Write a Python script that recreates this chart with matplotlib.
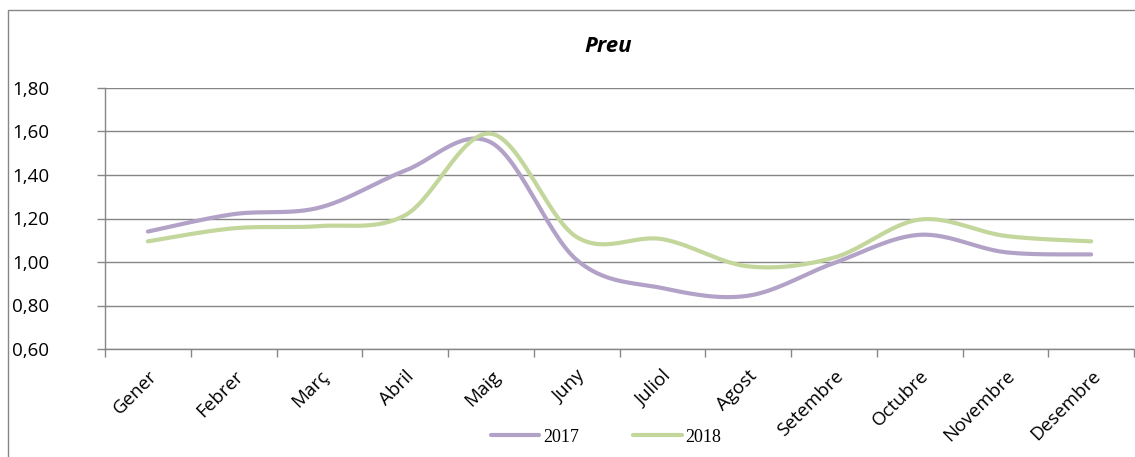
import numpy as np
import matplotlib.pyplot as plt
from matplotlib.patches import Rectangle
from matplotlib.ticker import FuncFormatter

months = ['Gener', 'Febrer', 'Març', 'Abril', 'Maig', 'Juny', 'Juliol',
          'Agost', 'Setembre', 'Octubre', 'Novembre', 'Desembre']
preu_2017 = [1.14, 1.22, 1.25, 1.42, 1.55, 1.01, 0.88, 0.845, 0.995, 1.125, 1.045, 1.035]
preu_2018 = [1.095, 1.155, 1.165, 1.215, 1.59, 1.115, 1.105, 0.98, 1.02, 1.195, 1.12, 1.095]
series_names = ['2017', '2018']

PURPLE = '#b3a2c7'
GREEN = '#c3d69b'
GRID = '#868686'
FONT = 'Open Sans'


def smooth(y, n=30):
    # Excel-style smoothed line: cubic Bezier between points
    x = np.arange(len(y), dtype=float)
    y = np.asarray(y, dtype=float)
    px = np.concatenate([[x[0]], x, [x[-1]]])
    py = np.concatenate([[y[0]], y, [y[-1]]])
    xs, ys = [], []
    t = np.linspace(0, 1, n)
    for i in range(1, len(px) - 2):
        p0 = np.array([px[i], py[i]])
        p3 = np.array([px[i + 1], py[i + 1]])
        p1 = p0 + (np.array([px[i + 1], py[i + 1]]) - np.array([px[i - 1], py[i - 1]])) / 6
        p2 = p3 - (np.array([px[i + 2], py[i + 2]]) - np.array([px[i], py[i]])) / 6
        b = ((1 - t) ** 3)[:, None] * p0 + (3 * (1 - t) ** 2 * t)[:, None] * p1 \
            + (3 * (1 - t) * t ** 2)[:, None] * p2 + (t ** 3)[:, None] * p3
        xs.extend(b[:, 0])
        ys.extend(b[:, 1])
    return np.array(xs), np.array(ys)


W, H = 1135, 457
fig = plt.figure(figsize=(W / 100, H / 100), dpi=100)
ax = fig.add_axes([105 / W, 1 - 349 / H, (1134 - 105) / W, (349 - 88) / H])

for vals, col, name in zip([preu_2017, preu_2018], [PURPLE, GREEN], series_names):
    sx, sy = smooth(vals)
    ax.plot(sx, sy, color=col, lw=3.0, solid_capstyle='round', label=name)

ax.set_xlim(-0.5, len(months) - 0.5)
ax.set_ylim(0.6, 1.8)
ax.set_yticks(np.arange(0.6, 1.81, 0.2))
ax.yaxis.set_major_formatter(FuncFormatter(lambda v, p: ('%.2f' % v).replace('.', ',')))
ax.grid(axis='y', color=GRID, lw=1.0)
ax.set_axisbelow(True)

ax.set_xticks(np.arange(-0.5, len(months), 1.0))
ax.set_xticklabels([])
ax.set_xticks(np.arange(len(months)), minor=True)
ax.set_xticklabels(months, minor=True, rotation=45, ha='right', va='top',
                   rotation_mode='anchor', fontsize=13.5, family=FONT)
ax.tick_params(axis='x', which='minor', length=0, pad=13)
ax.tick_params(axis='x', which='major', length=6, color=GRID, width=1)
ax.tick_params(axis='y', length=6, color=GRID, width=1, pad=34, labelsize=13.5)
for lab in ax.get_yticklabels():
    lab.set_family(FONT)

for s in ['top', 'right']:
    ax.spines[s].set_visible(False)
for s in ['left', 'bottom']:
    ax.spines[s].set_color(GRID)
    ax.spines[s].set_linewidth(1)

fig.text(608 / W, 1 - 46 / H, 'Preu', ha='center', va='center', fontsize=16,
         fontweight='bold', fontstyle='italic', family=FONT)

leg = fig.legend(loc='center', bbox_to_anchor=(606 / W, 1 - 437 / H), ncol=2,
                 frameon=False, prop={'family': 'Liberation Serif', 'size': 13},
                 handlelength=2.7, handletextpad=0.2, columnspacing=3.0)

fig.patches.append(Rectangle((8 / W, -0.1), 1.2, 1 - 10 / H + 0.1,
                             transform=fig.transFigure, fill=False,
                             edgecolor=GRID, lw=1))

fig.savefig('out.png', dpi=100)
